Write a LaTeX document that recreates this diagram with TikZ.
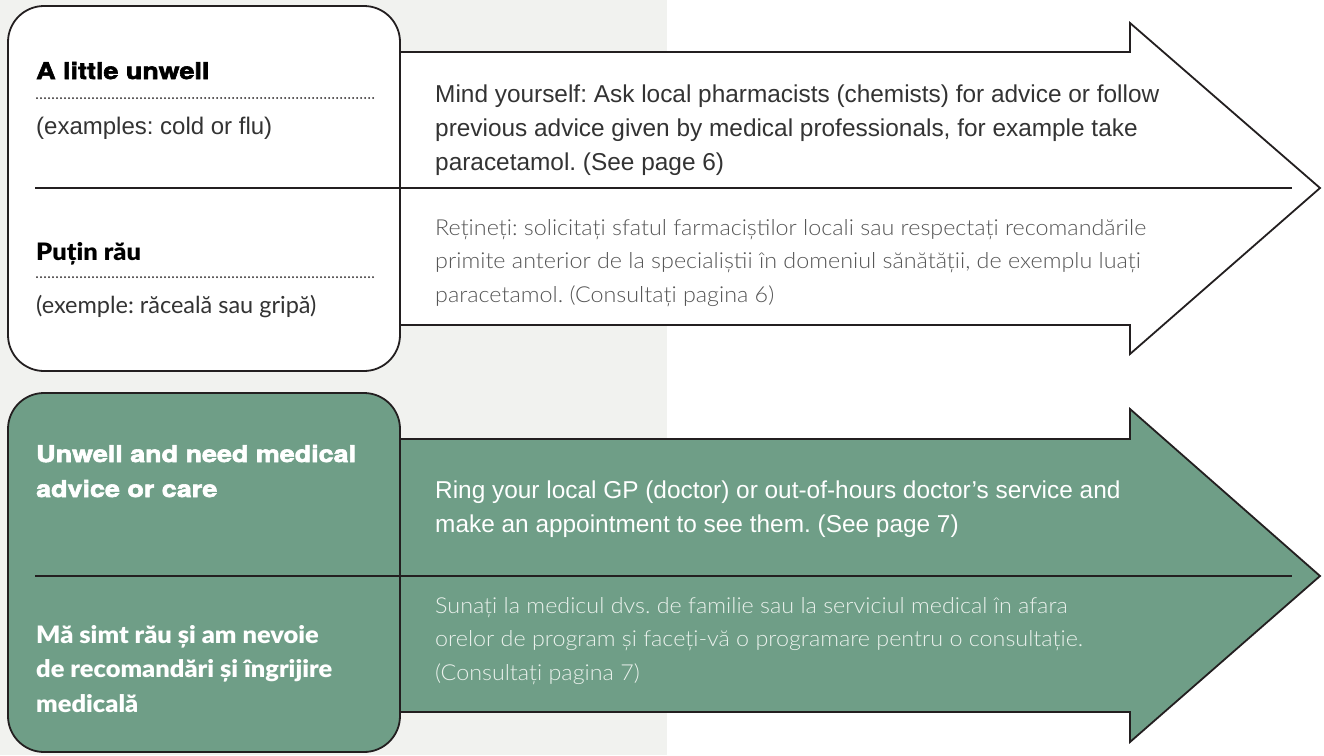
\documentclass[tikz,border=0pt]{standalone}
\usepackage{fontspec}
\setmainfont{Liberation Sans}
\newfontfamily\titrefont{TeX Gyre Heros}[BoldFeatures={FakeBold=2.6,FakeStretch=1.17}]
\IfFontExistsTF{Lato Black}{\newfontfamily\titreRO{Lato Black}[FakeStretch=1.06]}{\newfontfamily\titreRO{Liberation Sans}[FakeBold=2]}
\IfFontExistsTF{Lato Light}{\newfontfamily\corpsRO{Lato Light}[FakeStretch=1.06]}{\newfontfamily\corpsRO{Liberation Sans}[FakeStretch=0.95]}
\IfFontExistsTF{Lato}{\newfontfamily\sousRO{Lato}}{\newfontfamily\sousRO{Liberation Sans}}
\definecolor{vert}{HTML}{6F9E87}
\definecolor{fond}{HTML}{F1F2EF}
\definecolor{trait}{HTML}{231F20}
\definecolor{gristexte}{HTML}{333333}
\definecolor{grisRO}{HTML}{555555}
\definecolor{blancRO}{HTML}{EAF1EC}

\begin{document}
\frenchspacing
\begin{tikzpicture}[x=1pt,y=-1pt]

\tikzset{cadre/.style={draw=trait,line width=1.8pt,rounded corners=36pt}, %boite de gauche
	fleche/.style={draw=trait,line width=1.8pt,line join=miter},
	separation/.style={draw=trait,line width=1.8pt},
	pointilles/.style={draw=trait,line width=2pt,line cap=round,dash pattern=on 0pt off 4pt},
	titre/.style={anchor=base west,inner sep=0,align=left,font=\titrefont\bfseries\fontsize{23}{35}\selectfont},
	titreR/.style={anchor=base west,inner sep=0,align=left,font=\titreRO\fontsize{24}{34.5}\selectfont},
	sous/.style={anchor=base west,inner sep=0,text=gristexte,font=\fontsize{24}{34}\selectfont},
	sousR/.style={anchor=base west,inner sep=0,text=gristexte,font=\sousRO\fontsize{23.5}{34}\selectfont},
	corps/.style={anchor=base west,inner sep=0,align=left,text=gristexte,font=\fontsize{24.4}{34}\selectfont},
	corpsR/.style={anchor=base west,inner sep=0,align=left,text=grisRO,font=\corpsRO\fontsize{22}{33.5}\selectfont}}

\useasboundingbox (0,0) rectangle (1324,755);
\fill[fond] (0,0) rectangle (667,755);
\fill[white] (667,0) rectangle (1324,755);

%----------bloc du haut (blanc)------------
\draw[fleche,fill=white] (400,52) -- (1130,52) -- (1130,23) -- (1320,188) -- (1130,354) -- (1130,325) -- (400,325) -- cycle;
\draw[cadre,fill=white] (8,6) rectangle (400,371);
\draw[separation] (35,188) -- (1292,188);

\node[titre] (petitA) at (36,79) {A little unwell};
\draw[pointilles] (37,98) -- (373,98);
\node[sous] (exA) at (36,134) {(examples: cold or flu)};

\node[titreR] (petitR) at (36,260) {Puțin rău};
\draw[pointilles] (37,277) -- (373,277);
\node[sousR] (exR) at (36,313) {(exemple: răceală sau gripă)};

%la base d'un noeud sur plusieurs lignes est sa derniere ligne
\node[corps] (conseilA) at (435,170) {Mind yourself: Ask local pharmacists (chemists) for advice or follow\\previous advice given by medical professionals, for example take\\paracetamol. (See page 6)};
\node[corpsR] (conseilR) at (435,302) {Rețineți: solicitați sfatul farmaciștilor locali sau respectați recomandările\\primite anterior de la specialiștii în domeniul sănătății, de exemplu luați\\paracetamol. (Consultați pagina 6)};
%----------FIN bloc du haut------------

%----------bloc du bas (vert)------------
\draw[fleche,fill=vert] (400,439) -- (1130,439) -- (1130,409) -- (1320,576) -- (1130,742) -- (1130,712) -- (400,712) -- cycle;
\draw[cadre,fill=vert] (8,393) rectangle (400,752);
\draw[separation] (35,576) -- (1292,576);

\node[titre,text=white] (malA) at (36,497) {Unwell and need medical\\advice or care};
\node[titreR,text=white] (malR) at (36,712) {Mă simt rău și am nevoie\\de recomandări și îngrijire\\medicală};

\node[corps,text=white] (medecinA) at (435,532) {Ring your local GP (doctor) or out-of-hours doctor’s service and\\make an appointment to see them. (See page 7)};
\node[corpsR,text=blancRO] (medecinR) at (435,680) {Sunați la medicul dvs. de familie sau la serviciul medical în afara\\orelor de program și faceți-vă o programare pentru o consultație.\\(Consultați pagina 7)};
%----------FIN bloc du bas------------

\end{tikzpicture}
\end{document}
